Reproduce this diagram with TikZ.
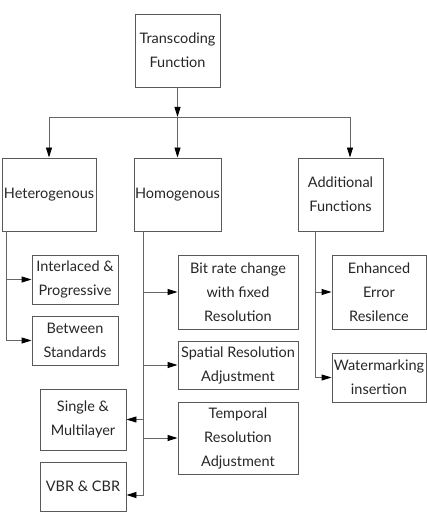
\documentclass[tikz,border=0pt]{standalone}
\usepackage{fontspec}
\setmainfont{Lato}
\usetikzlibrary{arrows.meta,positioning}

\begin{document}
\begin{tikzpicture}[
    x=1pt, y=-1pt,
    box/.style={rectangle, draw=black!65, line width=0.9pt, align=center,
                inner sep=1pt, text=black!85,
                font=\fontsize{14.5}{24}\selectfont},
    link/.style={draw=black!60, line width=0.9pt},
    arrow/.style={link, -{Triangle[length=10pt, width=6pt, color=black]}}
]
\useasboundingbox (0,0) rectangle (427,513);

% top level
\node[box, minimum width=85, minimum height=73] (tf) at (177.5,50.5)
    {Transcoding\\Function};
\node[box, minimum width=94, minimum height=73] (het) at (49,194.5)
    {Heterogenous};
\node[box, minimum width=85, minimum height=73] (hom) at (177.5,194.5)
    {Homogenous};
\node[box, minimum width=85, minimum height=73] (addf) at (340.5,194.5)
    {Additional\\Functions};

% heterogenous branch
\node[box, minimum width=86, minimum height=49] (ip) at (75,279.5)
    {Interlaced \&\\Progressive};
\node[box, minimum width=86, minimum height=49] (bs) at (75,340.5)
    {Between\\Standards};

% homogenous branch
\node[box, minimum width=120, minimum height=74] (brc) at (238,292)
    {Bit rate change\\with fixed\\Resolution};
\node[box, minimum width=120, minimum height=48] (sra) at (238,365)
    {Spatial Resolution\\Adjustment};
\node[box, minimum width=120, minimum height=72] (tra) at (238,438)
    {Temporal\\Resolution\\Adjustment};
\node[box, minimum width=86, minimum height=61] (sml) at (83,419.5)
    {Single \&\\Multilayer};
\node[box, minimum width=86, minimum height=49] (vbr) at (83,486.5)
    {VBR \& CBR};

% additional branch
\node[box, minimum width=94, minimum height=74] (eer) at (379,292)
    {Enhanced\\Error\\Resilence};
\node[box, minimum width=94, minimum height=49] (wmi) at (379,377.5)
    {Watermarking\\insertion};

% bus coordinates
\coordinate (split) at (177.5,117);
\coordinate (hetbus) at (6,231);
\coordinate (hombus) at (143,231);
\coordinate (addbus) at (315,231);

% top connectors
\draw[arrow] (tf) -- (split);
\draw[link] (split -| het) -- (split -| 350,0);
\draw[arrow] (split -| het) -- (het);
\draw[arrow] (split) -- (hom);
\draw[arrow] (split -| 350,0) -- (addf.north -| 350,0);

% heterogenous connectors
\draw[arrow] (hetbus) |- (bs.west);
\draw[arrow] (hetbus |- ip.west) -- (ip.west);

% homogenous connectors
\draw[arrow] (hombus) |- (vbr.east |- 0,495);
\draw[arrow] (hombus |- brc.west) -- (brc.west);
\draw[arrow] (hombus |- sra.west) -- (sra.west);
\draw[arrow] (hombus |- tra.west) -- (tra.west);
\draw[arrow] (hombus |- sml.east) -- (sml.east);

% additional connectors
\draw[arrow] (addbus) |- (wmi.west);
\draw[arrow] (addbus |- eer.west) -- (eer.west);
\end{tikzpicture}
\end{document}
